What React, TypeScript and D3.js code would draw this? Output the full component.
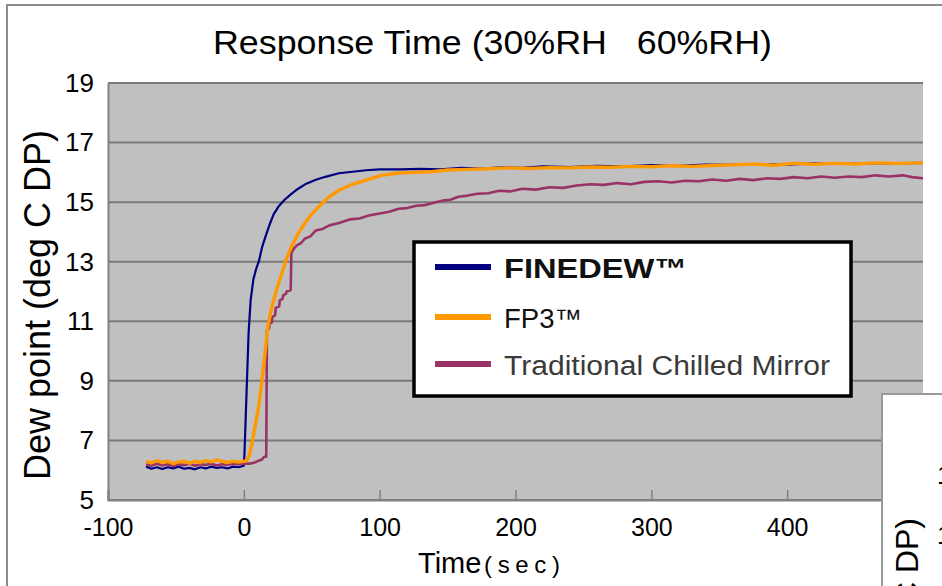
import React, { useEffect, useRef } from 'react';
import * as d3 from 'd3';

// [time (sec), dew point (deg C DP)]
const finedew: [number, number][] = [
  [-72, 6.12], [-68, 6.05], [-64, 6.1], [-60, 6.04], [-56, 6.1], [-52, 6.06], [-48, 6.12],
  [-44, 6.05], [-40, 6.08], [-36, 6.03], [-32, 6.1], [-28, 6.06], [-24, 6.12], [-20, 6.08],
  [-16, 6.1], [-12, 6.06], [-8, 6.12], [-4, 6.1], [0, 6.15], [0.5, 6.6], [2, 8.6], [3.5, 10.6],
  [5, 11.7], [7, 12.4], [9, 12.75], [11, 13.0], [13.5, 13.5], [16, 13.85], [19, 14.25],
  [22, 14.6], [26, 14.88], [30, 15.08], [35, 15.28], [40, 15.45], [46, 15.62], [53, 15.75],
  [60, 15.85], [70, 15.97], [80, 16.02], [90, 16.07], [100, 16.1], [115, 16.1], [130, 16.12],
  [145, 16.1], [160, 16.15], [175, 16.13], [190, 16.17], [205, 16.15], [220, 16.2], [240, 16.18],
  [260, 16.22], [280, 16.2], [300, 16.24], [320, 16.22], [340, 16.26], [360, 16.25],
  [380, 16.28], [400, 16.26], [420, 16.3], [440, 16.28], [460, 16.31], [480, 16.3], [500, 16.32],
];

const fp3: [number, number][] = [
  [-72, 6.3], [-68, 6.25], [-64, 6.32], [-60, 6.26], [-56, 6.3], [-52, 6.22], [-48, 6.28],
  [-44, 6.3], [-40, 6.24], [-36, 6.3], [-32, 6.26], [-28, 6.32], [-24, 6.28], [-20, 6.35],
  [-16, 6.3], [-12, 6.26], [-8, 6.3], [-4, 6.27], [0, 6.3], [2, 6.32], [4, 6.5], [6, 6.9],
  [8, 7.4], [11, 8.15], [13.5, 9.1], [16, 10.1], [18, 10.9], [20.5, 11.45], [24, 12.05],
  [28, 12.6], [31, 13.05], [35, 13.5], [40, 13.95], [45, 14.3], [50, 14.6], [55, 14.84],
  [62, 15.15], [70, 15.4], [80, 15.6], [90, 15.74], [101, 15.9], [114, 15.98], [125, 16.0],
  [138, 16.02], [150, 16.08], [165, 16.1], [180, 16.12], [195, 16.15], [210, 16.13],
  [225, 16.16], [240, 16.15], [255, 16.18], [270, 16.17], [285, 16.2], [300, 16.19],
  [315, 16.22], [330, 16.2], [345, 16.23], [360, 16.25], [375, 16.28], [390, 16.24],
  [405, 16.3], [420, 16.27], [435, 16.3], [450, 16.28], [465, 16.32], [480, 16.3], [500, 16.32],
];

const chilledMirror: [number, number][] = [
  [-72, 6.2], [-68, 6.15], [-64, 6.22], [-60, 6.16], [-56, 6.2], [-52, 6.14], [-48, 6.2],
  [-44, 6.17], [-40, 6.22], [-36, 6.15], [-32, 6.2], [-28, 6.18], [-24, 6.22], [-20, 6.16],
  [-16, 6.2], [-12, 6.18], [-8, 6.22], [-4, 6.2], [0, 6.22], [4, 6.22], [8, 6.26], [11, 6.32],
  [13, 6.35], [15, 6.45], [16.5, 6.45], [17, 10.7], [18.5, 10.75], [19, 10.95], [20.5, 10.95],
  [21, 11.15], [23, 11.2], [23.5, 11.45], [26, 11.5], [26.5, 11.7], [28.5, 11.75], [29, 11.88],
  [31, 11.92], [31.5, 12.0], [34.5, 12.05], [35, 13.3], [37, 13.45], [39, 13.55], [42, 13.62],
  [45, 13.78], [49, 13.85], [53, 14.05], [58, 14.1], [63, 14.22], [70, 14.3], [78, 14.42],
  [85, 14.45], [92, 14.55], [100, 14.62], [107, 14.68], [114, 14.78], [120, 14.8], [127, 14.88],
  [133, 14.9], [140, 14.98], [146, 15.05], [152, 15.08], [158, 15.18], [165, 15.22],
  [172, 15.28], [180, 15.3], [188, 15.38], [196, 15.36], [205, 15.45], [215, 15.42],
  [225, 15.5], [235, 15.48], [245, 15.56], [255, 15.6], [265, 15.58], [275, 15.64],
  [285, 15.6], [295, 15.68], [305, 15.7], [315, 15.66], [325, 15.72], [335, 15.7],
  [345, 15.76], [355, 15.72], [365, 15.78], [375, 15.74], [385, 15.8], [395, 15.78],
  [405, 15.84], [415, 15.8], [425, 15.86], [435, 15.82], [445, 15.86], [455, 15.84],
  [465, 15.9], [475, 15.86], [485, 15.9], [492, 15.84], [500, 15.8],
];

const xTicks = [-100, 0, 100, 200, 300, 400];
const yTicks = [5, 7, 9, 11, 13, 15, 17, 19];

const seriesNames = ['FINEDEW™', 'FP3™', 'Traditional Chilled Mirror'];
const seriesColors = ['#000080', '#FF9900', '#993366'];

const W = 942;
const H = 586;

const App = () => {
  const svgRef = useRef<SVGSVGElement>(null);

  useEffect(() => {
    const svg = d3.select(svgRef.current);
    svg.selectAll('*').remove();

    const plot = { left: 108, right: 923, top: 83, bottom: 500 };
    const font = '"Liberation Sans", Arial, sans-serif';

    const x = d3.scaleLinear().domain([-100, 500]).range([plot.left, plot.right]);
    const y = d3.scaleLinear().domain([5, 19]).range([plot.bottom, plot.top]);

    // outer frame
    svg.append('rect')
      .attr('x', 0).attr('y', 0).attr('width', W).attr('height', H)
      .attr('fill', '#fff');
    svg.append('rect')
      .attr('x', 7).attr('y', 5).attr('width', 980).attr('height', 620)
      .attr('fill', 'none').attr('stroke', '#8c8c8c').attr('stroke-width', 2);

    // title (arrow glyph between the two values is missing in the original, only spaces remain)
    svg.append('text')
      .attr('x', 213).attr('y', 54)
      .attr('textLength', 559).attr('lengthAdjust', 'spacingAndGlyphs')
      .style('white-space', 'pre')
      .style('font-family', font).style('font-size', '33px').style('fill', '#000')
      .text('Response Time (30%RH   60%RH)');

    // plot area
    svg.append('rect')
      .attr('x', plot.left).attr('y', plot.top)
      .attr('width', plot.right - plot.left).attr('height', plot.bottom - plot.top)
      .attr('fill', '#C0C0C0');

    // grid lines
    svg.append('g')
      .selectAll('line')
      .data(yTicks)
      .enter()
      .append('line')
      .attr('x1', plot.left).attr('x2', plot.right)
      .attr('y1', d => y(d)).attr('y2', d => y(d))
      .attr('stroke', '#7a7a7a').attr('stroke-width', 2);

    // y axis
    const yAxis = svg.append('g')
      .attr('transform', `translate(${plot.left},0)`)
      .call(d3.axisLeft(y).tickValues(yTicks).tickSize(0).tickPadding(14));
    yAxis.select('.domain').attr('stroke', '#808080').attr('stroke-width', 2);
    yAxis.selectAll('text')
      .style('font-family', font).style('font-size', '26px').style('fill', '#000');

    // x axis
    const xAxis = svg.append('g')
      .attr('transform', `translate(0,${plot.bottom})`)
      .call(d3.axisBottom(x).tickValues(xTicks).tickSize(-10).tickPadding(18)
        .tickFormat(d => String(d)));
    xAxis.select('.domain').attr('stroke', '#808080').attr('stroke-width', 2);
    xAxis.selectAll('line').attr('stroke', '#808080').attr('stroke-width', 1.5);
    xAxis.selectAll('text')
      .style('font-family', font).style('font-size', '25px').style('fill', '#000');

    // axis labels
    svg.append('text')
      .attr('transform', 'translate(50,305) rotate(-90)')
      .attr('text-anchor', 'middle')
      .style('font-family', font).style('font-size', '36px').style('fill', '#000')
      .text('Dew point (deg C DP)');

    svg.append('text')
      .attr('x', 418).attr('y', 573)
      .style('font-family', font).style('font-size', '29px').style('fill', '#000')
      .text('Time');
    svg.append('text')
      .attr('x', 484).attr('y', 573)
      .attr('textLength', 76).attr('lengthAdjust', 'spacing')
      .style('font-family', font).style('font-size', '24px').style('fill', '#000')
      .text('(sec)');

    // lines
    svg.append('clipPath').attr('id', 'plot-clip')
      .append('rect')
      .attr('x', plot.left).attr('y', plot.top)
      .attr('width', plot.right - plot.left).attr('height', plot.bottom - plot.top);

    const line = d3.line<[number, number]>()
      .x(d => x(d[0]))
      .y(d => y(d[1]));

    const lines = svg.append('g').attr('clip-path', 'url(#plot-clip)');
    const order: { data: [number, number][]; color: string; width: number }[] = [
      { data: finedew, color: seriesColors[0], width: 2.2 },
      { data: chilledMirror, color: seriesColors[2], width: 2.6 },
      { data: fp3, color: seriesColors[1], width: 3.4 },
    ];
    order.forEach(s => {
      lines.append('path')
        .datum(s.data)
        .attr('d', line)
        .attr('fill', 'none')
        .attr('stroke', s.color)
        .attr('stroke-width', s.width)
        .attr('stroke-linejoin', 'round');
    });

    // legend
    const legend = svg.append('g');
    legend.append('rect')
      .attr('x', 414).attr('y', 242).attr('width', 437).attr('height', 154)
      .attr('fill', '#fff').attr('stroke', '#000').attr('stroke-width', 3.5);

    const legendY = [267, 317, 364];
    const legendLen = [183, 78, 326];
    seriesNames.forEach((name, i) => {
      legend.append('line')
        .attr('x1', 435).attr('x2', 491)
        .attr('y1', legendY[i]).attr('y2', legendY[i])
        .attr('stroke', seriesColors[i]).attr('stroke-width', 6);
      legend.append('text')
        .attr('x', 504).attr('y', legendY[i] + 11)
        .attr('textLength', legendLen[i]).attr('lengthAdjust', 'spacingAndGlyphs')
        .style('font-family', font)
        .style('font-size', i === 0 ? '28px' : '27px')
        .style('font-weight', i === 0 ? 'bold' : 'normal')
        .style('fill', i === 2 ? '#3a3a3a' : '#111')
        .text(name);
    });

    // neighbouring chart peeking in at the bottom right
    const other = svg.append('g');
    other.append('rect')
      .attr('x', 882).attr('y', 394).attr('width', 120).attr('height', 260)
      .attr('fill', '#fff').attr('stroke', '#999').attr('stroke-width', 2);
    other.append('text')
      .attr('transform', 'translate(918,518) rotate(-90)')
      .attr('text-anchor', 'end')
      .style('font-family', font).style('font-size', '32px').style('fill', '#000')
      .text('Dew point (deg C DP)');
    [17, 15].forEach((v, i) => {
      other.append('text')
        .attr('x', 937).attr('y', 484 + i * 60)
        .style('font-family', font).style('font-size', '26px').style('fill', '#000')
        .text(String(v));
    });
  }, []);

  return (
    <div style={{ position: 'absolute', left: 0, top: 0 }}>
      <svg ref={svgRef} width={W} height={H} style={{ display: 'block' }}></svg>
    </div>
  );
};

export default App;
